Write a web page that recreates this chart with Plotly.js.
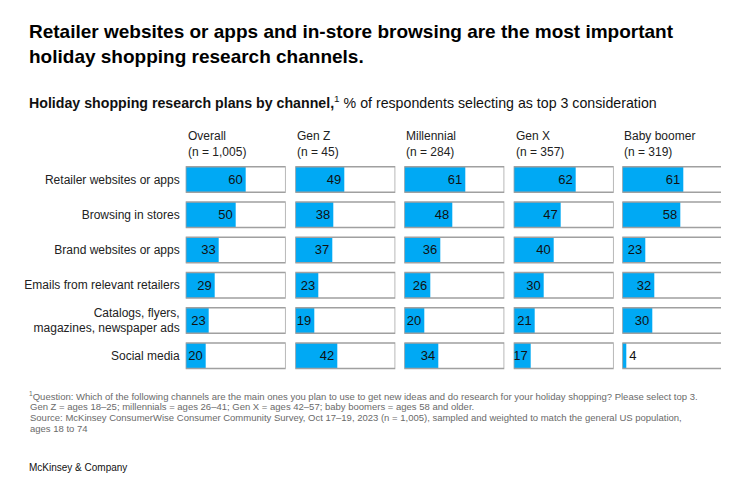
<!DOCTYPE html>
<html>
<head>
<meta charset="utf-8">
<script src="https://cdn.plot.ly/plotly-3.0.1.min.js"></script>
<style>html,body{margin:0;padding:0;background:#fff;}#chart{width:747px;height:501px;}</style>
</head>
<body>
<div id="chart"></div>
<script>
const categories = ['Retailer websites or apps', 'Browsing in stores', 'Brand websites or apps',
  'Emails from relevant retailers', 'Catalogs, flyers,<br>magazines, newspaper ads', 'Social media'];
const groups = ['Overall', 'Gen Z', 'Millennial', 'Gen X', 'Baby boomer'];
const sampleSizes = ['(n = 1,005)', '(n = 45)', '(n = 284)', '(n = 357)', '(n = 319)'];
const overall = [60, 50, 33, 29, 23, 20];
const genZ = [49, 38, 37, 23, 19, 42];
const millennial = [61, 48, 36, 26, 20, 34];
const genX = [62, 47, 40, 30, 21, 17];
const boomer = [61, 58, 23, 32, 30, 4];
const fullScale = [100, 100, 100, 100, 100, 100];
const footnoteLines = [
  '<sup>1</sup>Question: Which of the following channels are the main ones you plan to use to get new ideas and do research for your holiday shopping? Please select top 3.',
  'Gen Z = ages 18–25; millennials = ages 26–41; Gen X = ages 42–57; baby boomers = ages 58 and older.',
  'Source: McKinsey ConsumerWise Consumer Community Survey, Oct 17–19, 2023 (n = 1,005), sampled and weighted to match the general US population,',
  'ages 18 to 74'
];

const seriesList = [overall, genZ, millennial, genX, boomer];

const W = 747, H = 501;
const FONT = 'Liberation Sans, Arial, sans-serif';
const BLUE = '#00A9F4';
const panelLeft = [185.7, 295.3, 404.3, 513.7, 622.3];
const panelRightClip = 721;
const yTop = 161.9, yBot = 373.3;
const barFrac = 0.726;

const traces = [];
const layout = {
  width: W, height: H,
  margin: {l: 0, r: 0, t: 0, b: 0},
  paper_bgcolor: '#fff', plot_bgcolor: 'rgba(0,0,0,0)',
  barmode: 'overlay',
  showlegend: false,
  hovermode: false,
  font: {family: FONT, color: '#222'},
  yaxis: {
    domain: [1 - yBot / H, 1 - yTop / H],
    type: 'category',
    range: [categories.length - 0.5, -0.5],
    anchor: 'x',
    showgrid: false, zeroline: false, showline: false,
    ticks: '', ticklabelstandoff: 5,
    tickfont: {family: FONT, size: 12, color: '#222'},
    fixedrange: true
  },
  annotations: [],
  shapes: []
};

// Title
layout.annotations.push({
  text: '<b>Retailer websites or apps and in-store browsing are the most important<br>holiday shopping research channels.</b>',
  xref: 'paper', x: 27 / W, xanchor: 'left',
  yref: 'paper', y: 1 - 19 / H, yanchor: 'top',
  align: 'left', showarrow: false,
  font: {family: FONT, size: 19, color: '#000'}
});

seriesList.forEach((vals, i) => {
  const ax = i === 0 ? 'x' : 'x' + (i + 1);
  const axKey = i === 0 ? 'xaxis' : 'xaxis' + (i + 1);
  const left = panelLeft[i];
  const right = i === seriesList.length - 1 ? panelRightClip : left + 100;
  layout[axKey] = {
    domain: [left / W, right / W],
    range: [0, right - left],
    anchor: 'y',
    visible: false,
    fixedrange: true
  };
  traces.push({
    type: 'bar', orientation: 'h',
    x: vals, y: categories,
    xaxis: ax, yaxis: 'y',
    width: barFrac,
    marker: {color: BLUE, line: {width: 0}},
    text: vals.map(String),
    textposition: vals.map(v => v < 10 ? 'outside' : 'inside'),
    insidetextanchor: 'end',
    textangle: 0,
    constraintext: 'none',
    cliponaxis: false,
    textfont: {family: FONT, size: 13, color: '#111'},
    hoverinfo: 'skip'
  });
  traces.push({
    type: 'bar', orientation: 'h',
    x: fullScale, y: categories,
    xaxis: ax, yaxis: 'y',
    width: barFrac,
    marker: {color: 'rgba(0,0,0,0)', line: {color: '#a0a0a0', width: 1.5}},
    hoverinfo: 'skip'
  });
  layout.annotations.push({
    text: groups[i] + '<br>' + sampleSizes[i],
    xref: ax, x: 0, xanchor: 'left',
    yref: 'paper', y: 1 - 127.5 / H, yanchor: 'top',
    align: 'left', showarrow: false,
    font: {family: FONT, size: 12, color: '#222'}
  });
});

layout.annotations.push({
  text: '<b>Holiday shopping research plans by channel,</b><sup>1</sup> % of respondents selecting as top 3 consideration',
  xref: 'paper', x: 27 / W, xanchor: 'left',
  yref: 'paper', y: 1 - 102 / H, yanchor: 'middle',
  align: 'left', showarrow: false,
  font: {family: FONT, size: 14.2, color: '#111'}
});

footnoteLines.forEach((line, k) => {
  layout.annotations.push({
    text: line,
    xref: 'paper', x: (k === 0 ? 27 : 28) / W, xanchor: 'left',
    yref: 'paper', y: 1 - (395.7 + k * 11) / H, yanchor: 'middle',
    align: 'left', showarrow: false,
    font: {family: FONT, size: 9.5, color: '#6a6a6a'}
  });
});

layout.annotations.push({
  text: 'McKinsey & Company',
  xref: 'paper', x: 27 / W, xanchor: 'left',
  yref: 'paper', y: 1 - 467 / H, yanchor: 'middle',
  align: 'left', showarrow: false,
  font: {family: FONT, size: 10, color: '#111'}
});

Plotly.newPlot('chart', traces, layout, {staticPlot: true, displayModeBar: false});
</script>
</body>
</html>
